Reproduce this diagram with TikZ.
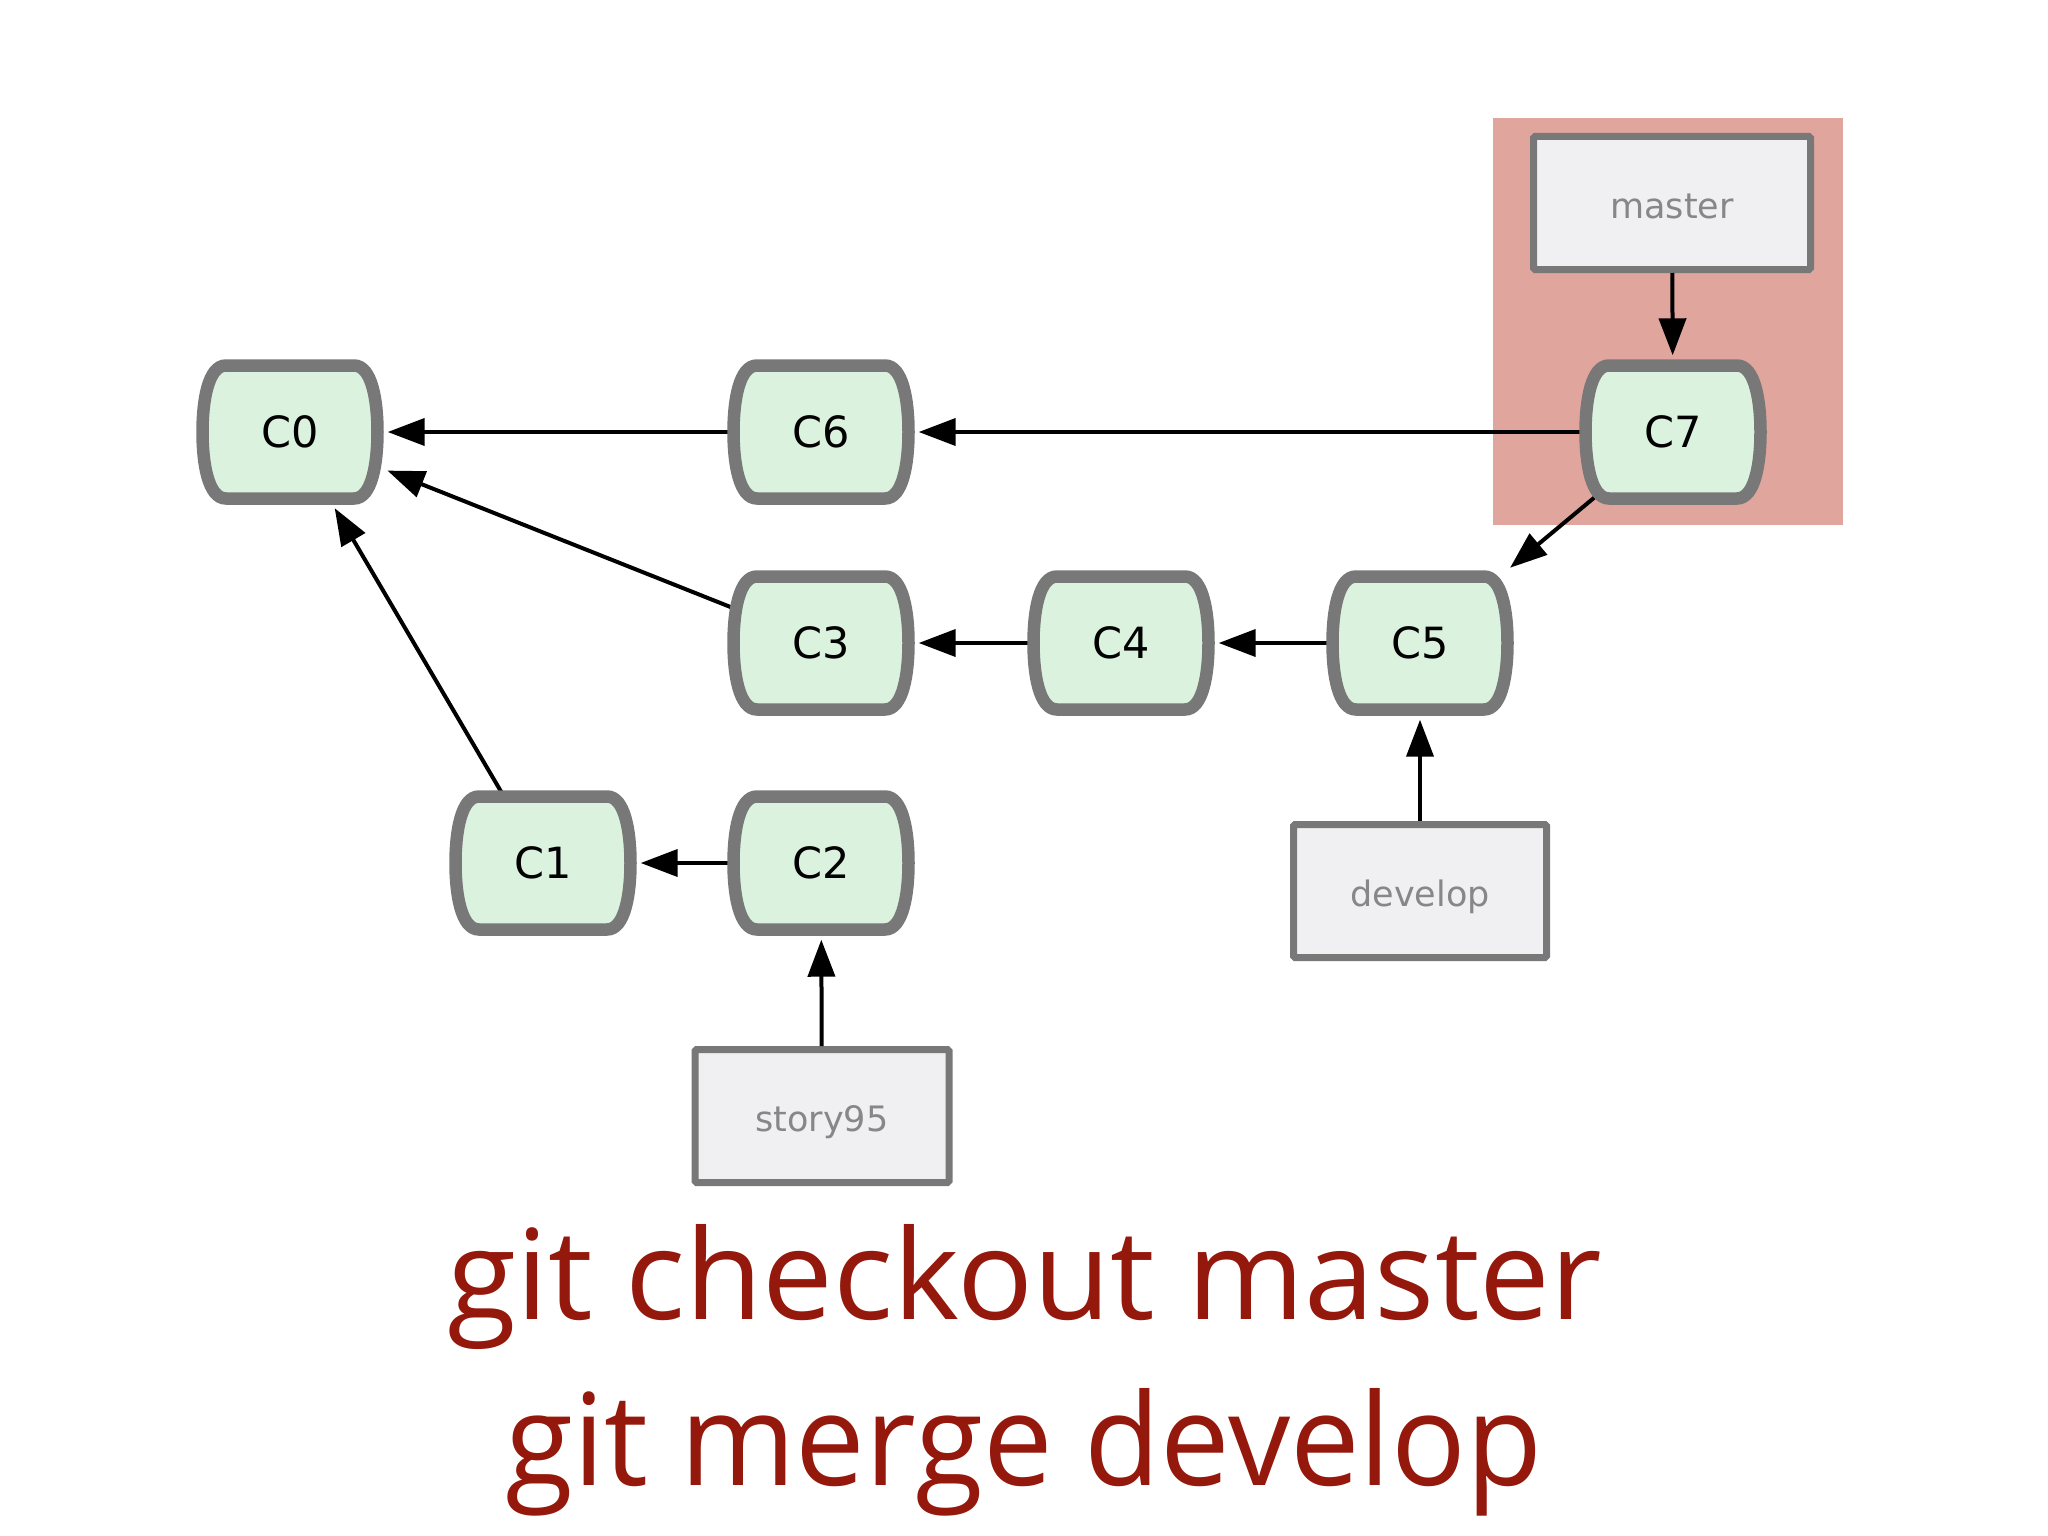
\documentclass[tikz,border=0pt]{standalone}
\usepackage{fontspec}
\usepackage{graphicx}
\setmainfont{DejaVu Sans}
\newfontfamily\titlefont{Open Sans}
\usetikzlibrary{arrows.meta}
\definecolor{commitfill}{RGB}{219,242,223}
\definecolor{edgegray}{RGB}{120,120,120}
\definecolor{labelfill}{RGB}{240,239,241}
\definecolor{labeltext}{RGB}{135,135,135}
\definecolor{hilite}{RGB}{224,166,157}
\definecolor{titlered}{RGB}{148,24,12}
\pgfdeclarelayer{bg}
\pgfdeclarelayer{edges}
\pgfsetlayers{bg,edges,main}
\tikzset{
  barrel/.style={draw=edgegray, fill=commitfill, line width=12.5pt},
  commitnode/.style={minimum width=187pt, minimum height=145pt, inner sep=0pt, font=\fontsize{43}{43}\selectfont},
  branchbox/.style={draw=edgegray, fill=labelfill, line width=7pt, minimum height=133pt, inner sep=0pt, text height=31pt, text depth=0pt, font=\fontsize{35}{35}\selectfont, text=labeltext, rounded corners=1.5pt},
  link/.style={line width=4pt, shorten >=4pt, -{Triangle[length=37pt,width=27pt]}},
  titletext/.style={anchor=base west, inner sep=0pt, text=titlered},
}
\newcommand\commit[3]{%
  \begin{scope}[shift={#2}]
    \path[barrel] (-64,-66.5) -- (64,-66.5) .. controls (82,-66.5) and (87.5,-31) .. (87.5,0)
      .. controls (87.5,31) and (82,66.5) .. (64,66.5) -- (-64,66.5)
      .. controls (-82,66.5) and (-87.5,31) .. (-87.5,0)
      .. controls (-87.5,-31) and (-82,-66.5) .. (-64,-66.5) -- cycle;
  \end{scope}
  \node[commitnode] (#1) at #2 {#3};}
\begin{document}
\begin{tikzpicture}[x=1pt,y=-1pt]
\begin{pgfonlayer}{bg}
  \fill[white] (0,0) rectangle (2048,1536);
  \node[fill=hilite, minimum width=350pt, minimum height=407pt, inner sep=0pt] (hl) at (1668,321.5) {};
\end{pgfonlayer}
\useasboundingbox (0,0) rectangle (2048,1536);
\commit{c0}{(290,432)}{C0}
\commit{c6}{(821,432)}{C6}
\commit{c7}{(1673,432)}{C7}
\commit{c3}{(821,643)}{C3}
\commit{c4}{(1121,643)}{C4}
\commit{c5}{(1420,643)}{C5}
\commit{c1}{(543,863)}{C1}
\commit{c2}{(821,863)}{C2}
\node[branchbox, minimum width=277pt] (master) at (1672,203) {master};
\node[branchbox, minimum width=253pt] (develop) at (1420,891) {develop};
\node[branchbox, minimum width=254pt] (story) at (822,1116) {story95};
\begin{pgfonlayer}{edges}
  \draw[link] (c6.center) -- (c0);
  \draw[link] (c7.center) -- (c6);
  \draw[link] (c3.center) -- (c0);
  \draw[link] (c1.center) -- (c0);
  \draw[link] (c7.center) -- (c5);
  \draw[link] (c5.center) -- (c4);
  \draw[link] (c4.center) -- (c3);
  \draw[link] (c2.center) -- (c1);
\end{pgfonlayer}
\draw[link] (master) -- (c7);
\draw[link] (develop) -- (c5);
\draw[link] (story) -- (c2);
\node[titletext] (t1) at (447,1319) {\resizebox{1153pt}{95pt}{\titlefont git checkout master}};
\node[titletext] (t2) at (505,1485) {\resizebox{1036pt}{97pt}{\titlefont git merge develop}};
\end{tikzpicture}
\end{document}
